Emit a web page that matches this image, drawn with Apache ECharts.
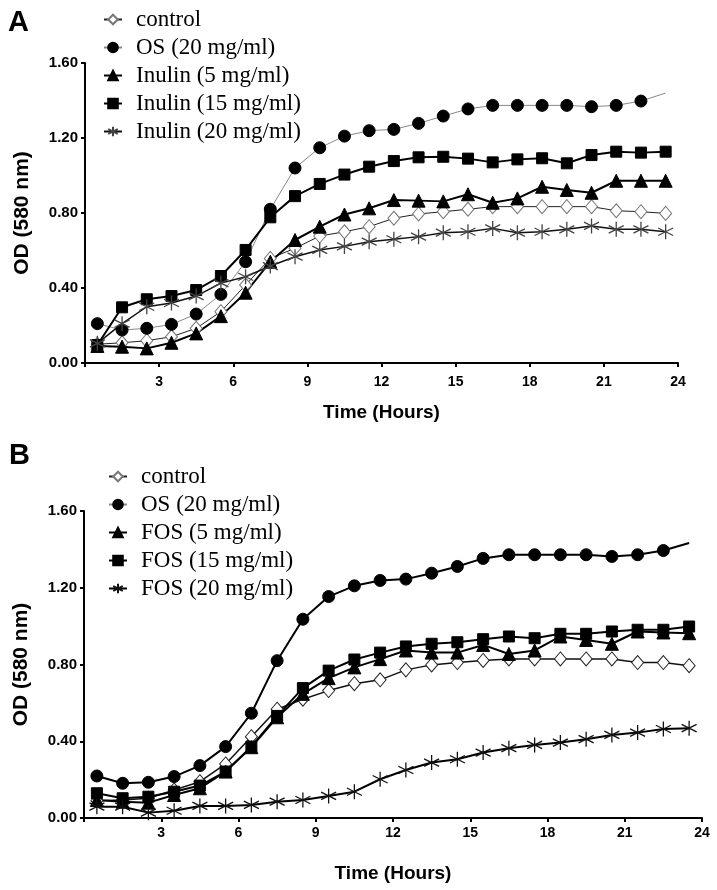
<!DOCTYPE html>
<html>
<head>
<meta charset="utf-8">
<script src="https://cdn.jsdelivr.net/npm/echarts@6/dist/echarts.min.js"></script>
<style>
  html, body { margin: 0; padding: 0; background: #fff; }
  #chart { width: 717px; height: 890px; }
</style>
</head>
<body>
<div id="chart"></div>
<script>
// sampling times (hours)
var hours = [0.5, 1.5, 2.5, 3.5, 4.5, 5.5, 6.5, 7.5, 8.5, 9.5, 10.5, 11.5,
  12.5, 13.5, 14.5, 15.5, 16.5, 17.5, 18.5, 19.5, 20.5, 21.5, 22.5, 23.5];

// panel A - inulin
var controlA = [0.10, 0.108, 0.119, 0.14, 0.185, 0.274, 0.416, 0.558, 0.612, 0.677, 0.70, 0.727,
  0.772, 0.795, 0.807, 0.82, 0.834, 0.834, 0.834, 0.834, 0.834, 0.812, 0.807, 0.798];
var osA = [0.21, 0.176, 0.185, 0.206, 0.261, 0.366, 0.54, 0.82, 1.04, 1.148, 1.21, 1.239,
  1.246, 1.278, 1.317, 1.355, 1.374, 1.374, 1.374, 1.374, 1.367, 1.374, 1.397, 1.44];
var inulin5 = [0.091, 0.087, 0.078, 0.108, 0.158, 0.25, 0.375, 0.54, 0.656, 0.727, 0.792, 0.825,
  0.869, 0.866, 0.862, 0.90, 0.855, 0.878, 0.94, 0.923, 0.908, 0.972, 0.972, 0.972];
var inulin15 = [0.096, 0.297, 0.34, 0.357, 0.389, 0.464, 0.603, 0.777, 0.89, 0.955, 1.005, 1.047,
  1.077, 1.097, 1.10, 1.09, 1.07, 1.086, 1.092, 1.065, 1.109, 1.127, 1.122, 1.127];
var inulin20 = [0.105, 0.21, 0.30, 0.32, 0.357, 0.426, 0.46, 0.517, 0.567, 0.603, 0.622, 0.647,
  0.66, 0.674, 0.695, 0.70, 0.718, 0.695, 0.70, 0.713, 0.731, 0.713, 0.713, 0.70];

// panel B - FOS
var controlB = [0.09, 0.094, 0.103, 0.146, 0.189, 0.282, 0.424, 0.567, 0.619, 0.664, 0.70, 0.72,
  0.772, 0.798, 0.81, 0.821, 0.829, 0.829, 0.829, 0.829, 0.829, 0.81, 0.81, 0.794];
var osB = [0.219, 0.181, 0.186, 0.216, 0.273, 0.372, 0.546, 0.82, 1.036, 1.154, 1.21, 1.238,
  1.245, 1.276, 1.311, 1.353, 1.372, 1.372, 1.372, 1.372, 1.363, 1.372, 1.394, 1.433];
var fos5 = [0.094, 0.085, 0.08, 0.12, 0.155, 0.242, 0.369, 0.525, 0.647, 0.729, 0.785, 0.828,
  0.873, 0.862, 0.862, 0.902, 0.855, 0.873, 0.946, 0.928, 0.908, 0.972, 0.967, 0.963];
var fos15 = [0.129, 0.103, 0.111, 0.137, 0.169, 0.242, 0.372, 0.532, 0.677, 0.768, 0.826, 0.862,
  0.894, 0.908, 0.916, 0.932, 0.946, 0.937, 0.96, 0.96, 0.972, 0.981, 0.981, 0.998];
var fos20 = [0.059, 0.059, 0.028, 0.038, 0.063, 0.063, 0.068, 0.085, 0.094, 0.115, 0.137, 0.202,
  0.25, 0.289, 0.306, 0.341, 0.364, 0.381, 0.393, 0.411, 0.433, 0.445, 0.464, 0.468];

var namesA = ['control', 'OS (20 mg/ml)', 'Inulin (5 mg/ml)', 'Inulin (15 mg/ml)', 'Inulin (20 mg/ml)'];
var namesB = ['control', 'OS (20 mg/ml)', 'FOS (5 mg/ml)', 'FOS (15 mg/ml)', 'FOS (20 mg/ml)'];

var ASTERISK = 'path://M10 0 L10 20 M1.34 5 L18.66 15 M1.34 15 L18.66 5';
var tickFont = 'Liberation Sans';

function pts(values, noLastMarker) {
  return values.map(function (v, i) {
    var p = [hours[i], v];
    if (noLastMarker && i === values.length - 1) {
      return { value: p, symbol: 'none' };
    }
    return p;
  });
}

function makeSeries(name, values, idx, marker, size, lineColor, lineWidth, fill, border, noLast) {
  return {
    name: name,
    type: 'line',
    xAxisIndex: idx,
    yAxisIndex: idx,
    data: pts(values, noLast),
    symbol: marker,
    symbolSize: size,
    showAllSymbol: true,
    lineStyle: { color: lineColor, width: lineWidth },
    itemStyle: { color: fill, borderColor: border, borderWidth: marker === ASTERISK ? 1.3 : 1 },
    emphasis: { disabled: true },
    z: 3
  };
}

function xAxis(idx, margin, gap) {
  return {
    gridIndex: idx,
    type: 'value',
    min: 0,
    max: 24,
    interval: 3,
    name: 'Time (Hours)',
    nameLocation: 'middle',
    nameGap: gap,
    nameTextStyle: { fontFamily: tickFont, fontWeight: 'bold', fontSize: 19, color: '#000' },
    axisLine: { lineStyle: { color: '#000', width: 2 } },
    axisTick: { length: 4, lineStyle: { color: '#000', width: 2 } },
    axisLabel: {
      margin: margin,
      fontFamily: tickFont, fontWeight: 'bold', fontSize: 14, color: '#000',
      formatter: function (v) { return v === 0 ? '' : String(v); }
    },
    splitLine: { show: false }
  };
}

function yAxis(idx) {
  return {
    gridIndex: idx,
    type: 'value',
    min: 0,
    max: 1.6,
    interval: 0.4,
    name: 'OD (580 nm)',
    nameLocation: 'middle',
    nameGap: 52,
    nameTextStyle: { fontFamily: tickFont, fontWeight: 'bold', fontSize: 21, color: '#000' },
    axisLine: { show: true, lineStyle: { color: '#000', width: 2 } },
    axisTick: { show: true, length: 4, lineStyle: { color: '#000', width: 2 } },
    axisLabel: {
      margin: 7,
      fontFamily: tickFont, fontWeight: 'bold', fontSize: 15, color: '#000',
      formatter: function (v) { return v.toFixed(2); }
    },
    splitLine: { show: false }
  };
}

function legend(names, left, top) {
  return {
    data: names,
    orient: 'vertical',
    left: left,
    top: top,
    itemWidth: 18,
    itemHeight: 12,
    itemGap: 5,
    selectedMode: false,
    textStyle: {
      fontFamily: 'Liberation Serif', fontSize: 23, lineHeight: 23, color: '#000',
      padding: [0, 0, 0, 9]
    }
  };
}

var chart = echarts.init(document.getElementById('chart'), null, { renderer: 'canvas' });

var option = {
  animation: false,
  backgroundColor: '#fff',
  title: [
    { text: 'A', left: 3, top: 3, textStyle: { fontFamily: tickFont, fontWeight: 'bold', fontSize: 29, color: '#000' } },
    { text: 'B', left: 4, top: 436, textStyle: { fontFamily: tickFont, fontWeight: 'bold', fontSize: 29, color: '#000' } }
  ],
  legend: [legend(namesA, 98, 3), legend(namesB, 103, 460)],
  grid: [
    { left: 85, top: 63, width: 593, height: 300 },
    { left: 84, top: 511, width: 618, height: 307 }
  ],
  xAxis: [xAxis(0, 12, 40), xAxis(1, 8, 46)],
  yAxis: [yAxis(0), yAxis(1)],
  series: [
    makeSeries(namesA[0], controlA, 0, 'diamond', [12, 14], '#222', 1, '#fff', '#777', false),
    makeSeries(namesA[1], osA, 0, 'circle', 12, '#888', 1, '#000', '#000', true),
    makeSeries(namesA[2], inulin5, 0, 'triangle', 13, '#000', 2, '#000', '#000', false),
    makeSeries(namesA[3], inulin15, 0, 'rect', 11, '#000', 2, '#000', '#000', false),
    makeSeries(namesA[4], inulin20, 0, ASTERISK, 15, '#111', 1.5, 'none', '#444', false),

    makeSeries(namesB[0], controlB, 1, 'diamond', [12, 14], '#111', 1.5, '#fff', '#222', false),
    makeSeries(namesB[1], osB, 1, 'circle', 12, '#000', 2, '#000', '#000', true),
    makeSeries(namesB[2], fos5, 1, 'triangle', 13, '#000', 2, '#000', '#000', false),
    makeSeries(namesB[3], fos15, 1, 'rect', 11, '#000', 2, '#000', '#000', false),
    makeSeries(namesB[4], fos20, 1, ASTERISK, 15, '#000', 2, 'none', '#111', false)
  ]
};

chart.setOption(option);
</script>
</body>
</html>
